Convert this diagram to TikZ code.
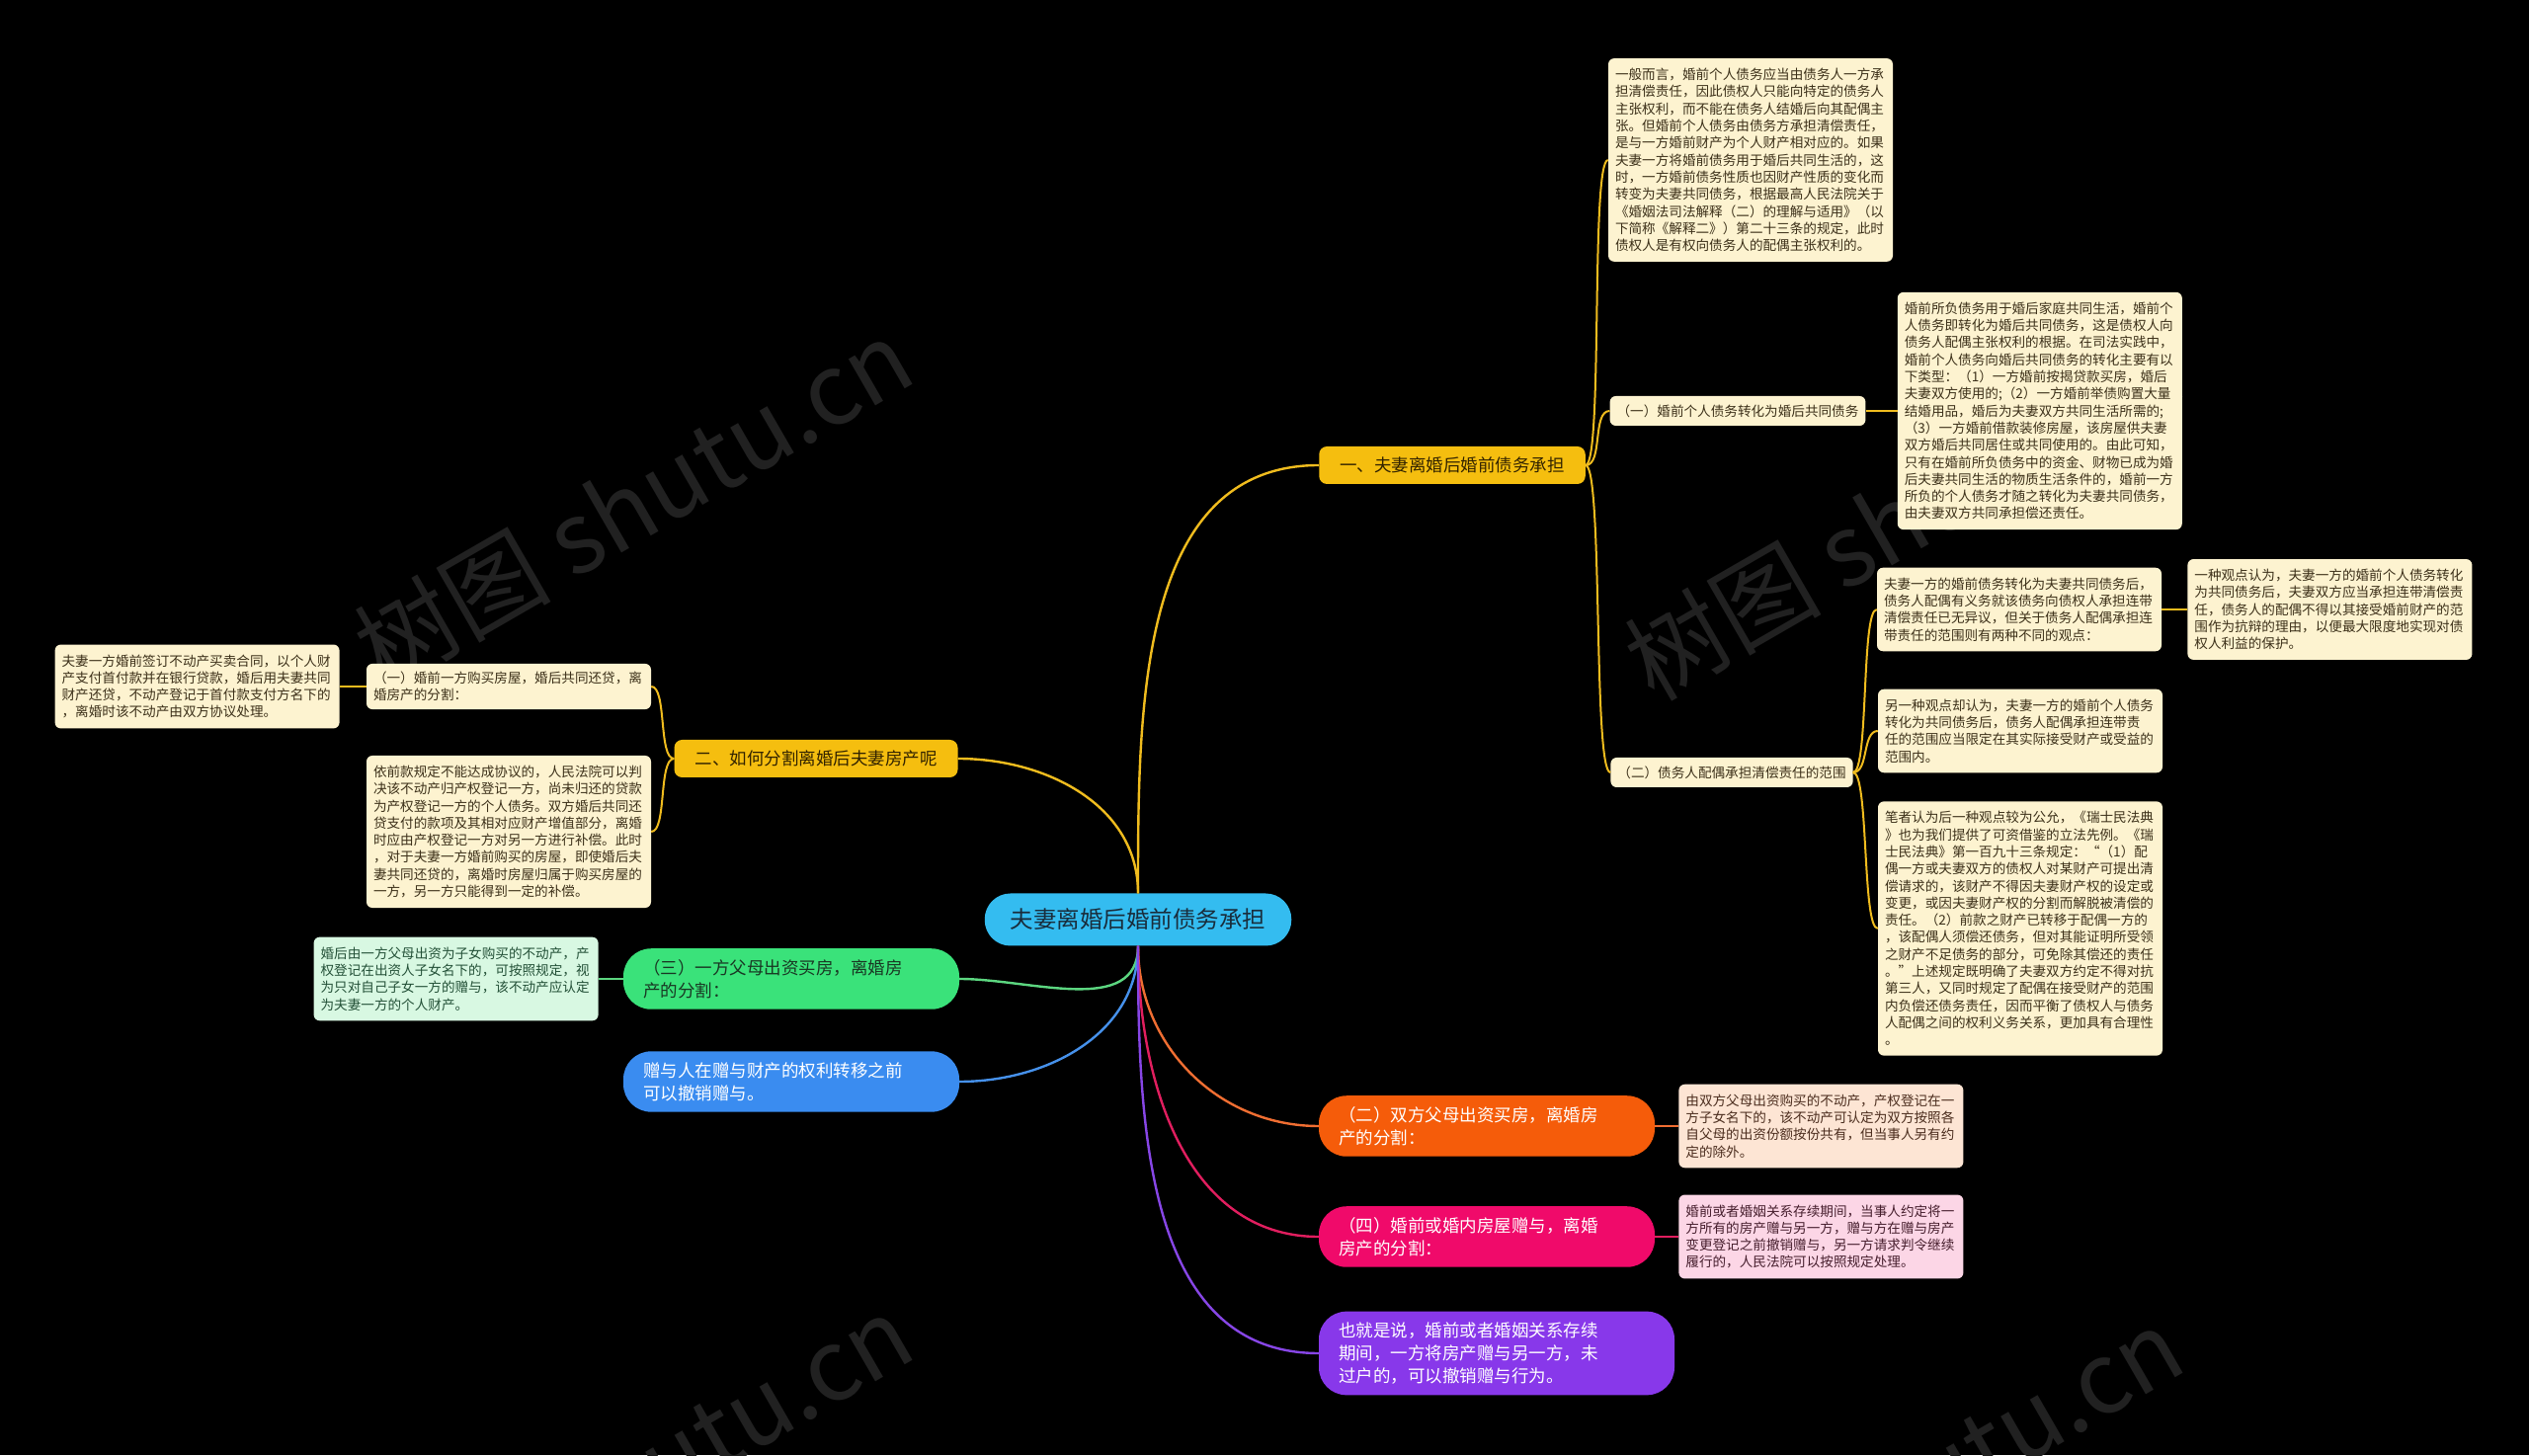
\documentclass[tikz,border=0pt]{standalone}
\usepackage{fontspec}
\setmainfont{Noto Sans CJK SC}
\usetikzlibrary{positioning}
\definecolor{rootblue}{RGB}{52,188,240}
\definecolor{rootink}{RGB}{25,45,60}
\definecolor{gold}{RGB}{245,190,15}
\definecolor{goldink}{RGB}{50,35,0}
\definecolor{goldline}{RGB}{240,188,30}
\definecolor{cream}{RGB}{253,243,208}
\definecolor{creamink}{RGB}{60,48,25}
\definecolor{leaf}{RGB}{58,226,122}
\definecolor{leafink}{RGB}{25,55,35}
\definecolor{leafline}{RGB}{92,214,128}
\definecolor{mint}{RGB}{216,248,226}
\definecolor{mintink}{RGB}{35,80,55}
\definecolor{sky}{RGB}{58,140,240}
\definecolor{skyline}{RGB}{70,145,235}
\definecolor{tangerine}{RGB}{245,92,10}
\definecolor{tangerineline}{RGB}{240,110,50}
\definecolor{peach}{RGB}{253,229,212}
\definecolor{peachink}{RGB}{75,45,30}
\definecolor{rose}{RGB}{240,10,106}
\definecolor{roseline}{RGB}{225,30,95}
\definecolor{blush}{RGB}{252,214,230}
\definecolor{blushink}{RGB}{70,30,45}
\definecolor{violet}{RGB}{136,56,234}
\definecolor{violetline}{RGB}{135,70,230}
\definecolor{markgray}{RGB}{33,33,33}
\tikzset{
  % Base style
  mind base/.style={
    x=1pt, y=1pt,
    every node/.style={font=\fontsize{13.6}{17.3}\selectfont},
  },
  % Centre and main branches
  root node/.style={rounded corners=26pt, fill=rootblue, text=rootink, font=\fontsize{23.5}{28}\selectfont, inner xsep=26pt, inner ysep=4pt, minimum height=53pt},
  main branch/.style={rounded corners=8pt, fill=gold, text=goldink, font=\fontsize{17.5}{21}\selectfont, inner xsep=21pt, inner ysep=4pt, minimum height=38pt},
  pill branch/.style={rounded corners=28pt, text width=300pt, align=left, inner xsep=20pt, inner ysep=11pt, font=\fontsize{17.5}{23}\selectfont},
  % Sub topics and text notes
  topic box/.style={rounded corners=6pt, fill=cream, text=creamink, inner xsep=7pt, inner ysep=8pt, minimum height=30pt},
  note box/.style={rounded corners=6pt, fill=cream, text=creamink, text width=274pt, align=left, inner xsep=7pt, inner ysep=10pt},
  % Connectors
  trunk/.style={line width=2.4pt},
  twig/.style={line width=2pt},
  watermark/.style={text=markgray, font=\fontsize{100}{110}\selectfont, rotate=30},
}

\begin{document}
\begin{tikzpicture}[mind base]
  \useasboundingbox (0,0) rectangle (2560,1473);
  \clip (0,0) rectangle (2560,1473);
  \fill[black] (0,0) rectangle (2560,1473);
  % watermarks
  \node[watermark] (wm1) at (641,964) {树图 shutu.cn};
  \node[watermark] (wm2) at (1927,951) {树图 shutu.cn};
  \node[watermark] (wm3) at (641,-24) {树图 shutu.cn};
  \node[watermark] (wm4) at (1927,-37) {树图 shutu.cn};

  \node[root node] (root) at (1152,542) {夫妻离婚后婚前债务承担};

  % --- branch one ---
  \node[main branch] (b1) at (1470,1002) {一、夫妻离婚后婚前债务承担};
  \node[note box] (A) at (1772,1311) {一般而言，婚前个人债务应当由债务人一方承\\担清偿责任，因此债权人只能向特定的债务人\\主张权利，而不能在债务人结婚后向其配偶主\\张。但婚前个人债务由债务方承担清偿责任，\\是与一方婚前财产为个人财产相对应的。如果\\夫妻一方将婚前债务用于婚后共同生活的，这\\时，一方婚前债务性质也因财产性质的变化而\\转变为夫妻共同债务，根据最高人民法院关于\\《婚姻法司法解释（二）的理解与适用》（以\\下简称《解释二》）第二十三条的规定，此时\\债权人是有权向债务人的配偶主张权利的。};
  \node[topic box] (s1) at (1759,1057) {（一）婚前个人债务转化为婚后共同债务};
  \node[note box, right=32pt of s1] (B) {婚前所负债务用于婚后家庭共同生活，婚前个\\人债务即转化为婚后共同债务，这是债权人向\\债务人配偶主张权利的根据。在司法实践中，\\婚前个人债务向婚后共同债务的转化主要有以\\下类型：（1）一方婚前按揭贷款买房，婚后\\夫妻双方使用的;（2）一方婚前举债购置大量\\结婚用品，婚后为夫妻双方共同生活所需的;\\（3）一方婚前借款装修房屋，该房屋供夫妻\\双方婚后共同居住或共同使用的。由此可知，\\只有在婚前所负债务中的资金、财物已成为婚\\后夫妻共同生活的物质生活条件的，婚前一方\\所负的个人债务才随之转化为夫妻共同债务，\\由夫妻双方共同承担偿还责任。};
  \node[topic box] (s2) at (1753,691) {（二）债务人配偶承担清偿责任的范围};
  \node[note box] (C) at (2044,856) {夫妻一方的婚前债务转化为夫妻共同债务后，\\债务人配偶有义务就该债务向债权人承担连带\\清偿责任已无异议，但关于债务人配偶承担连\\带责任的范围则有两种不同的观点：};
  \node[note box, right=26pt of C] (D) {一种观点认为，夫妻一方的婚前个人债务转化\\为共同债务后，夫妻双方应当承担连带清偿责\\任，债务人的配偶不得以其接受婚前财产的范\\围作为抗辩的理由，以便最大限度地实现对债\\权人利益的保护。};
  \node[note box] (E) at (2045,733) {另一种观点却认为，夫妻一方的婚前个人债务\\转化为共同债务后，债务人配偶承担连带责\\任的范围应当限定在其实际接受财产或受益的\\范围内。};
  \node[note box] (F) at (2045,533) {笔者认为后一种观点较为公允，《瑞士民法典\\》也为我们提供了可资借鉴的立法先例。《瑞\\士民法典》第一百九十三条规定：“（1）配\\偶一方或夫妻双方的债权人对某财产可提出清\\偿请求的，该财产不得因夫妻财产权的设定或\\变更，或因夫妻财产权的分割而解脱被清偿的\\责任。（2）前款之财产已转移于配偶一方的\\，该配偶人须偿还债务，但对其能证明所受领\\之财产不足债务的部分，可免除其偿还的责任\\。”上述规定既明确了夫妻双方约定不得对抗\\第三人，又同时规定了配偶在接受财产的范围\\内负偿还债务责任，因而平衡了债权人与债务\\人配偶之间的权利义务关系，更加具有合理性\\。};

  % --- branch two ---
  \node[main branch] (b2) at (826,705) {二、如何分割离婚后夫妻房产呢};
  \node[topic box, text width=274pt, align=left] (l1) at (515,778) {（一）婚前一方购买房屋，婚后共同还贷，离\\婚房产的分割：};
  \node[note box, left=27pt of l1] (G) {夫妻一方婚前签订不动产买卖合同，以个人财\\产支付首付款并在银行贷款，婚后用夫妻共同\\财产还贷，不动产登记于首付款支付方名下的\\，离婚时该不动产由双方协议处理。};
  \node[note box] (H) at (515,631) {依前款规定不能达成协议的，人民法院可以判\\决该不动产归产权登记一方，尚未归还的贷款\\为产权登记一方的个人债务。双方婚后共同还\\贷支付的款项及其相对应财产增值部分，离婚\\时应由产权登记一方对另一方进行补偿。此时\\，对于夫妻一方婚前购买的房屋，即使婚后夫\\妻共同还贷的，离婚时房屋归属于购买房屋的\\一方，另一方只能得到一定的补偿。};

  % --- coloured branches ---
  \node[pill branch, fill=leaf, text=leafink] (b3) at (801,482) {（三）一方父母出资买房，离婚房\\产的分割：};
  \node[note box, fill=mint, text=mintink, left=25pt of b3] (I) {婚后由一方父母出资为子女购买的不动产，产\\权登记在出资人子女名下的，可按照规定，视\\为只对自己子女一方的赠与，该不动产应认定\\为夫妻一方的个人财产。};
  \node[pill branch, fill=sky, text=white] (b4) at (801,378) {赠与人在赠与财产的权利转移之前\\可以撤销赠与。};
  \node[pill branch, fill=tangerine, text=white] (b5) at (1505,333) {（二）双方父母出资买房，离婚房\\产的分割：};
  \node[note box, fill=peach, text=peachink, right=24pt of b5] (J) {由双方父母出资购买的不动产，产权登记在一\\方子女名下的，该不动产可认定为双方按照各\\自父母的出资份额按份共有，但当事人另有约\\定的除外。};
  \node[pill branch, fill=rose, text=white] (b6) at (1505,221) {（四）婚前或婚内房屋赠与，离婚\\房产的分割：};
  \node[note box, fill=blush, text=blushink, right=24pt of b6] (K) {婚前或者婚姻关系存续期间，当事人约定将一\\方所有的房产赠与另一方，赠与方在赠与房产\\变更登记之前撤销赠与，另一方请求判令继续\\履行的，人民法院可以按照规定处理。};
  \node[pill branch, fill=violet, text=white, text width=320pt] (b7) at (1515,103) {也就是说，婚前或者婚姻关系存续\\期间，一方将房产赠与另一方，未\\过户的，可以撤销赠与行为。};

  % root connectors
  \draw[trunk, goldline] (root.north) to[out=90, in=180] (b1.west);
  \draw[trunk, goldline] (root.north) to[out=90, in=0] (b2.east);
  \draw[trunk, leafline] (root.south) to[out=-90, in=0] (b3.east);
  \draw[trunk, skyline] (root.south) to[out=-90, in=0] (b4.east);
  \draw[trunk, tangerineline] (root.south) to[out=-90, in=180] (b5.west);
  \draw[trunk, roseline] (root.south) to[out=-90, in=180] (b6.west);
  \draw[trunk, violetline] (root.south) to[out=-90, in=180] (b7.west);

  % branch connectors
  \draw[twig, goldline] (b1.east) .. controls +(18,0) and +(-18,0) .. (A.west);
  \draw[twig, goldline] (b1.east) .. controls +(18,0) and +(-18,0) .. (s1.west);
  \draw[twig, goldline] (b1.east) .. controls +(18,0) and +(-18,0) .. (s2.west);
  \draw[twig, goldline] (s1.east) -- (B.west);
  \draw[twig, goldline] (s2.east) .. controls +(16,0) and +(-16,0) .. (C.west);
  \draw[twig, goldline] (s2.east) .. controls +(16,0) and +(-16,0) .. (E.west);
  \draw[twig, goldline] (s2.east) .. controls +(16,0) and +(-16,0) .. (F.west);
  \draw[twig, goldline] (C.east) -- (D.west);
  \draw[twig, goldline] (b2.west) .. controls +(-16,0) and +(16,0) .. (l1.east);
  \draw[twig, goldline] (b2.west) .. controls +(-16,0) and +(16,0) .. (H.east);
  \draw[twig, goldline] (l1.west) -- (G.east);
  \draw[twig, leafline] (b3.west) -- (I.east);
  \draw[twig, tangerineline] (b5.east) -- (J.west);
  \draw[twig, roseline] (b6.east) -- (K.west);
\end{tikzpicture}
\end{document}
